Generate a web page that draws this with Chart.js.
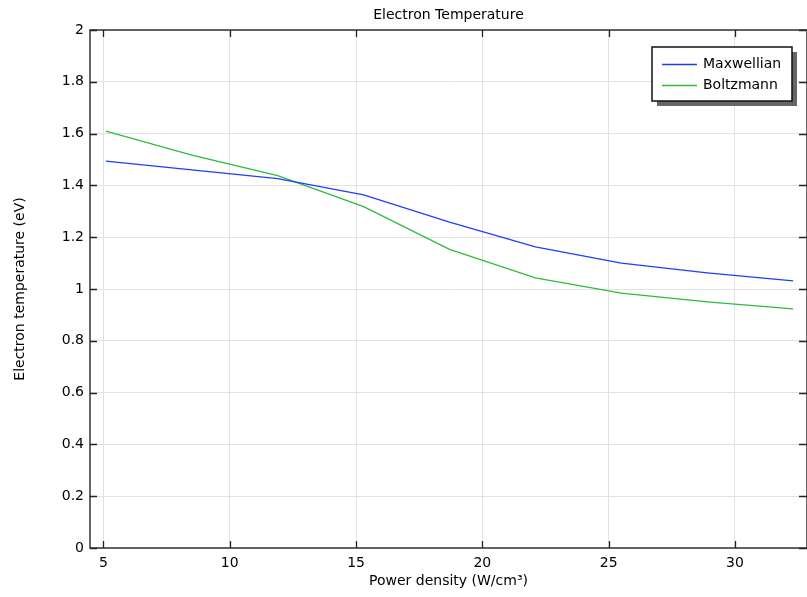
<!DOCTYPE html>
<html>
<head>
<meta charset="utf-8">
<script src="https://cdn.jsdelivr.net/npm/chart.js@4"></script>
<style>
  html, body { margin: 0; padding: 0; background: #fff; }
  canvas { display: block; }
</style>
</head>
<body>
<canvas id="tempChart" width="807" height="597"></canvas>
<script>
// Data
const powerDensity = [5.1, 8.5, 11.9, 15.3, 18.7, 22.1, 25.5, 28.9, 32.3];
const maxwellian = [1.494, 1.460, 1.426, 1.363, 1.258, 1.163, 1.100, 1.062, 1.031];
const boltzmann = [1.610, 1.517, 1.438, 1.318, 1.153, 1.043, 0.984, 0.950, 0.923];
const xTicks = [5, 10, 15, 20, 25, 30];
const yTicks = [0, 0.2, 0.4, 0.6, 0.8, 1, 1.2, 1.4, 1.6, 1.8, 2];

const FONT = 'DejaVu Sans';

function toPoints(xs, ys) {
    return xs.map((x, i) => ({ x: x, y: ys[i] }));
}

// Title, axis titles, frame, inward ticks and legend box
const decorations = {
    id: 'decorations',
    afterDraw(chart) {
        const ctx = chart.ctx;
        const area = chart.chartArea;
        const xs = chart.scales.x;
        const ys = chart.scales.y;
        ctx.save();

        // frame
        ctx.strokeStyle = '#333';
        ctx.lineWidth = 1.5;
        ctx.strokeRect(area.left, area.top, area.right - area.left, area.bottom - area.top);

        // inward ticks on all four sides
        ctx.lineWidth = 1.3;
        ctx.strokeStyle = '#222';
        ctx.beginPath();
        xTicks.forEach(v => {
            const px = Math.round(xs.getPixelForValue(v)) + 0.5;
            ctx.moveTo(px, area.bottom);
            ctx.lineTo(px, area.bottom - 7);
            ctx.moveTo(px, area.top);
            ctx.lineTo(px, area.top + 7);
        });
        yTicks.forEach(v => {
            const py = Math.round(ys.getPixelForValue(v)) + 0.5;
            ctx.moveTo(area.left, py);
            ctx.lineTo(area.left + 7, py);
            ctx.moveTo(area.right, py);
            ctx.lineTo(area.right - 8, py);
        });
        ctx.stroke();

        // titles
        ctx.fillStyle = '#000';
        ctx.font = '14px "' + FONT + '"';
        ctx.textAlign = 'center';
        ctx.textBaseline = 'middle';
        ctx.fillText('Electron Temperature', (area.left + area.right) / 2, 15);
        ctx.fillText('Power density (W/cm³)', (area.left + area.right) / 2, 581);
        ctx.save();
        ctx.translate(20, (area.top + area.bottom) / 2);
        ctx.rotate(-Math.PI / 2);
        ctx.fillText('Electron temperature (eV)', 0, 0);
        ctx.restore();

        // legend
        const bx = 652, by = 47, bw = 140, bh = 54;
        ctx.fillStyle = '#666';
        ctx.fillRect(bx + 5, by + 5, bw, bh);
        ctx.fillStyle = '#fff';
        ctx.fillRect(bx, by, bw, bh);
        ctx.strokeStyle = '#111';
        ctx.lineWidth = 1.5;
        ctx.strokeRect(bx, by, bw, bh);
        ctx.textAlign = 'left';
        chart.data.datasets.forEach((ds, i) => {
            const ly = 64 + i * 21;
            ctx.strokeStyle = ds.borderColor;
            ctx.lineWidth = 1.3;
            ctx.beginPath();
            ctx.moveTo(662, ly + 0.5);
            ctx.lineTo(697, ly + 0.5);
            ctx.stroke();
            ctx.fillStyle = '#000';
            ctx.fillText(ds.label, 703, ly);
        });

        ctx.restore();
    }
};

const ctx = document.getElementById('tempChart').getContext('2d');
const chart = new Chart(ctx, {
    type: 'line',
    data: {
        datasets: [
            {
                label: 'Maxwellian',
                data: toPoints(powerDensity, maxwellian),
                borderColor: '#1f3dff',
                borderWidth: 1.3,
                pointRadius: 0,
                tension: 0,
                fill: false
            },
            {
                label: 'Boltzmann',
                data: toPoints(powerDensity, boltzmann),
                borderColor: '#2dbb3f',
                borderWidth: 1.3,
                pointRadius: 0,
                tension: 0,
                fill: false
            }
        ]
    },
    options: {
        responsive: false,
        animation: false,
        layout: { padding: { top: 30, right: 0, left: 0, bottom: 0 } },
        plugins: {
            legend: { display: false },
            title: { display: false },
            tooltip: { enabled: false }
        },
        scales: {
            x: {
                type: 'linear',
                min: 4.47,
                max: 32.85,
                afterBuildTicks: s => { s.ticks = xTicks.map(v => ({ value: v })); },
                afterFit: s => { s.height = 49; },
                grid: { color: '#e1e1e1', lineWidth: 1, drawTicks: false },
                border: { display: false },
                ticks: {
                    color: '#000',
                    font: { family: FONT, size: 14 },
                    padding: 7,
                    maxRotation: 0,
                    callback: v => String(v)
                }
            },
            y: {
                type: 'linear',
                min: 0,
                max: 2,
                afterBuildTicks: s => { s.ticks = yTicks.map(v => ({ value: v })); },
                afterFit: s => { s.width = 90; },
                grid: { color: '#e1e1e1', lineWidth: 1, drawTicks: false },
                border: { display: false },
                ticks: {
                    color: '#000',
                    font: { family: FONT, size: 14 },
                    padding: 6,
                    callback: v => String(v)
                }
            }
        }
    },
    plugins: [decorations]
});
</script>
</body>
</html>
